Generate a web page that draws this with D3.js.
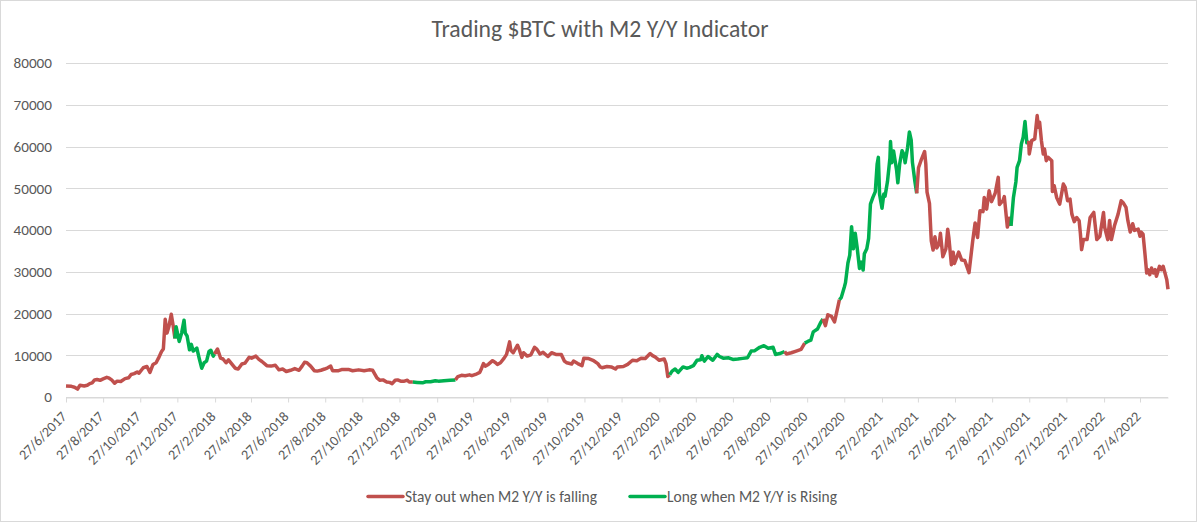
<!DOCTYPE html>
<html>
<head>
<meta charset="utf-8">
<script src="https://cdn.jsdelivr.net/npm/d3@7"></script>
<style>
  html, body { margin: 0; padding: 0; background: #fff; }
  svg { display: block; }
  svg text { font-family: Carlito, Calibri, Lato, sans-serif; }
</style>
</head>
<body>
<svg id="chart" width="1200" height="523"></svg>
<script>
// BTC close
const dates = [
  "2017-06-27","2017-07-06","2017-07-11","2017-07-16","2017-07-20","2017-07-27","2017-08-01","2017-08-05","2017-08-09","2017-08-13",
  "2017-08-17","2017-08-22","2017-08-27","2017-09-02","2017-09-06","2017-09-10","2017-09-15","2017-09-19","2017-09-25","2017-10-02",
  "2017-10-08","2017-10-12","2017-10-17","2017-10-22","2017-10-25","2017-11-01","2017-11-07","2017-11-12","2017-11-17","2017-11-22",
  "2017-11-26","2017-12-01","2017-12-04","2017-12-07","2017-12-10","2017-12-13","2017-12-17","2017-12-20","2017-12-23",
  "2017-12-25","2017-12-30","2018-01-03","2018-01-07","2018-01-09","2018-01-12","2018-01-16","2018-01-19","2018-01-22","2018-01-28",
  "2018-02-01","2018-02-05","2018-02-09","2018-02-13","2018-02-17","2018-02-20","2018-02-24","2018-02-26",
  "2018-03-03","2018-03-08","2018-03-12","2018-03-17","2018-03-21","2018-03-27","2018-04-01","2018-04-06","2018-04-12","2018-04-17",
  "2018-04-24","2018-04-28","2018-05-05","2018-05-10","2018-05-15","2018-05-23","2018-05-30","2018-06-06","2018-06-12","2018-06-18",
  "2018-06-24","2018-07-01","2018-07-08","2018-07-15","2018-07-20","2018-07-24","2018-07-28","2018-08-03","2018-08-09","2018-08-14",
  "2018-08-20","2018-08-26","2018-08-31","2018-09-05","2018-09-08","2018-09-18","2018-09-24","2018-10-04","2018-10-11","2018-10-21",
  "2018-10-30","2018-11-07","2018-11-13","2018-11-20","2018-11-25","2018-11-30","2018-12-06","2018-12-11","2018-12-15","2018-12-20",
  "2018-12-24","2018-12-29","2019-01-04","2019-01-09","2019-01-12","2019-01-18",
  "2019-01-25","2019-02-03","2019-02-08","2019-02-16","2019-02-24","2019-03-01","2019-03-10","2019-03-20","2019-03-29",
  "2019-04-02","2019-04-08","2019-04-14","2019-04-21","2019-04-25","2019-05-01","2019-05-08","2019-05-11","2019-05-14","2019-05-17",
  "2019-05-22","2019-05-29","2019-06-03","2019-06-06","2019-06-11","2019-06-17","2019-06-21","2019-06-26","2019-06-28","2019-07-02",
  "2019-07-09","2019-07-12","2019-07-16","2019-07-19","2019-07-25","2019-07-31","2019-08-06","2019-08-10","2019-08-15","2019-08-20",
  "2019-08-28","2019-09-03","2019-09-10","2019-09-19","2019-09-24","2019-09-28","2019-10-06","2019-10-09","2019-10-16","2019-10-23",
  "2019-10-26","2019-11-03","2019-11-10","2019-11-18","2019-11-22","2019-11-25","2019-12-03","2019-12-10","2019-12-17","2019-12-20",
  "2019-12-30","2020-01-06","2020-01-14","2020-01-21","2020-01-28","2020-02-04","2020-02-12","2020-02-16","2020-02-20","2020-02-27",
  "2020-03-06","2020-03-09","2020-03-12","2020-03-15",
  "2020-03-19","2020-03-24","2020-03-29","2020-04-06","2020-04-12","2020-04-17","2020-04-23","2020-04-29","2020-05-05","2020-05-07",
  "2020-05-11","2020-05-17","2020-05-25","2020-06-01","2020-06-05","2020-06-11","2020-06-20","2020-06-27","2020-07-05","2020-07-13",
  "2020-07-21","2020-07-27","2020-08-02","2020-08-10","2020-08-17","2020-08-24","2020-09-01","2020-09-05","2020-09-12","2020-09-20",
  "2020-09-23","2020-10-01","2020-10-09","2020-10-17","2020-10-23",
  "2020-10-28","2020-11-02","2020-11-06","2020-11-13","2020-11-18","2020-11-22",
  "2020-11-26","2020-11-30","2020-12-06","2020-12-11","2020-12-16","2020-12-19",
  "2020-12-22","2020-12-27","2020-12-29","2021-01-02","2021-01-05","2021-01-08","2021-01-11","2021-01-14","2021-01-17","2021-01-21",
  "2021-01-24","2021-01-27","2021-01-29","2021-02-02","2021-02-05","2021-02-08","2021-02-12","2021-02-16","2021-02-19","2021-02-21",
  "2021-02-23","2021-02-27","2021-03-02","2021-03-04","2021-03-08","2021-03-12","2021-03-13","2021-03-15","2021-03-18","2021-03-23",
  "2021-03-25","2021-03-28","2021-04-01","2021-04-04","2021-04-06","2021-04-10","2021-04-13","2021-04-16","2021-04-18","2021-04-22",
  "2021-04-25",
  "2021-04-28","2021-05-02","2021-05-08","2021-05-10","2021-05-12","2021-05-16","2021-05-19","2021-05-22","2021-05-25","2021-05-28",
  "2021-06-01","2021-06-03","2021-06-07","2021-06-12","2021-06-15","2021-06-17","2021-06-21","2021-06-24","2021-06-26","2021-07-03",
  "2021-07-08","2021-07-13","2021-07-20","2021-07-26","2021-07-30","2021-08-03","2021-08-07","2021-08-12","2021-08-14","2021-08-18",
  "2021-08-22","2021-08-26","2021-09-01","2021-09-06","2021-09-08","2021-09-14","2021-09-16","2021-09-21","2021-09-24","2021-09-27",
  "2021-10-01","2021-10-05","2021-10-07","2021-10-11","2021-10-14","2021-10-17","2021-10-20","2021-10-23","2021-10-26",
  "2021-10-27","2021-10-31","2021-11-05","2021-11-09","2021-11-11","2021-11-13","2021-11-16","2021-11-19","2021-11-21","2021-11-24",
  "2021-11-27","2021-11-30","2021-12-03","2021-12-04","2021-12-07","2021-12-11","2021-12-16","2021-12-22","2021-12-25","2021-12-29",
  "2022-01-02","2022-01-05","2022-01-09","2022-01-13","2022-01-17","2022-01-19","2022-01-21","2022-01-24","2022-01-30","2022-02-04",
  "2022-02-10","2022-02-15","2022-02-20","2022-02-26","2022-02-28","2022-03-05","2022-03-08","2022-03-11","2022-03-16","2022-03-22",
  "2022-03-27","2022-03-30","2022-04-04","2022-04-07","2022-04-11","2022-04-15","2022-04-18","2022-04-24","2022-04-27","2022-04-29",
  "2022-05-02","2022-05-05","2022-05-08","2022-05-10","2022-05-13","2022-05-16","2022-05-19","2022-05-22","2022-05-24","2022-05-29",
  "2022-06-01","2022-06-04","2022-06-07","2022-06-10","2022-06-12"
];
const prices = [
  2630,2550,2350,1900,2800,2650,2800,3200,3400,4100,
  4200,4000,4350,4700,4500,4100,3300,3800,3700,4400,
  4600,5400,5600,6000,5700,7000,7300,5900,7800,8200,
  9300,10900,11500,18600,15300,16800,19800,17200,14000,
  16800,13300,15300,18400,15300,14600,11300,12600,11000,11700,
  9200,6900,8200,8600,10900,11200,9800,10300,
  11500,9300,9100,8200,8900,7800,6900,6700,7900,8100,
  9500,9300,9800,9000,8500,7500,7400,7600,6500,6700,
  6100,6400,6800,6400,7400,8300,8200,7400,6300,6200,
  6400,6700,7000,7400,6300,6300,6600,6600,6300,6500,
  6300,6500,6400,4600,4000,4100,3600,3500,3200,4000,
  4100,3800,3800,4000,3600,3600,
  3500,3400,3650,3650,3900,3800,3900,4000,4100,
  4900,5200,5100,5300,5100,5400,5900,6900,8000,7400,
  7800,8700,8200,7800,8200,9300,10200,13200,11200,10600,
  12400,11400,9500,10600,9800,10100,11900,11400,10300,10700,
  9700,10600,10200,10200,8600,8200,7900,8600,8000,7500,
  9300,9200,8800,8000,7200,7000,7300,7200,6700,7200,
  7300,7800,8800,8700,9300,9200,10400,9900,9600,8800,
  9100,8000,4900,5300,
  6200,6700,5900,7200,6900,7100,7500,8800,8900,9900,
  8600,9700,8800,10200,9700,9300,9400,9000,9100,9250,
  9400,11000,11100,11900,12300,11700,11900,10200,10400,10900,
  10300,10600,11000,11400,12900,
  13300,13600,15600,16300,17800,18700,
  17100,19700,19300,18000,21300,23300,
  23800,26300,27400,32100,34000,40800,35500,39200,36000,30800,
  32300,30400,34300,35500,38000,46200,47800,49200,55800,57400,
  48600,45200,48600,48100,51600,57200,61200,56100,58900,54300,
  51300,55800,59000,58100,56100,59700,63500,61500,56200,51700,
  48800,
  54900,56600,58800,55800,49100,46400,37400,35200,38400,35700,
  36700,39200,33600,35500,40200,38000,31700,34700,32000,34700,
  32800,32700,29800,37300,41700,38200,44600,44400,47800,45000,
  49400,46800,48800,52600,46100,47100,48000,40700,42800,41000,
  47800,51500,55000,56600,60600,62200,66000,60900,61400,
  58200,61400,61800,67400,64600,65800,61400,58200,59400,56600,
  57400,57000,56600,49200,50600,47800,46200,51000,50200,47000,
  47400,43800,42000,43000,42200,39200,35300,37700,37700,43000,
  44200,37700,38500,44200,40600,37700,42300,37700,41000,43800,
  47000,46600,45400,42300,39500,41500,39900,40200,38500,39500,
  39000,34500,29700,30500,29300,30900,29700,30500,28900,31300,
  30500,31300,29700,28100,25800
];

// M2 Y/Y regime: each entry starts on that date
const regimeStarts = ["2017-06-27","2017-12-23","2018-02-26","2019-01-18","2019-03-29","2020-03-15",
  "2020-09-20","2020-10-23","2020-11-22","2020-12-19","2021-04-25","2021-09-27","2021-10-26"];
const regimeSignals = ["out","long","out","long","out","long","out","long","out","long","out","long","out"];

const seriesNames = ["Stay out when M2 Y/Y is falling", "Long when M2 Y/Y is Rising"];
const seriesKeys = ["out", "long"];
const seriesColors = ["#C0504D", "#00B050"];
const yTicks = [0,10000,20000,30000,40000,50000,60000,70000,80000];

const parse = d3.utcParse("%Y-%m-%d");
const fmt = d3.utcFormat("%-d/%-m/%Y");

const pts = dates.map((d, i) => ({ date: parse(d), value: prices[i] }));
const starts = regimeStarts.map(parse);
pts.forEach(p => {
  const k = d3.bisectRight(starts, p.date) - 1;
  p.signal = regimeSignals[k];
});

// split into runs; each run also takes the first point of the next one
const runs = [];
pts.forEach((p, i) => {
  if (i === 0 || p.signal !== pts[i - 1].signal) {
    if (runs.length) runs[runs.length - 1].points.push(p);
    runs.push({ signal: p.signal, points: [p] });
  } else {
    runs[runs.length - 1].points.push(p);
  }
});

// scale a text selection's font so that one sample node gets the wanted width
function fitFont(sel, node, width, start) {
  sel.style("font-size", start + "px");
  const w = node.getComputedTextLength();
  sel.style("font-size", (start * width / w).toFixed(2) + "px");
}

const W = 1200, H = 523;
const margin = { left: 66, right: 32, top: 63, bottom: 126 };

const svg = d3.select("#chart");

svg.append("rect")
  .attr("x", 0.5).attr("y", 0.5)
  .attr("width", 1196).attr("height", 521)
  .attr("fill", "#fff").attr("stroke", "#d9d9d9");

const x = d3.scaleUtc()
  .domain([pts[0].date, pts[pts.length - 1].date])
  .range([margin.left, W - margin.right]);

const y = d3.scaleLinear()
  .domain([0, 80000])
  .range([H - margin.bottom, margin.top]);

// gridlines
svg.append("g")
  .selectAll("line")
  .data(yTicks)
  .join("line")
  .attr("x1", margin.left).attr("x2", W - margin.right)
  .attr("y1", d => Math.round(y(d)) + 0.5).attr("y2", d => Math.round(y(d)) + 0.5)
  .attr("stroke", "#d9d9d9").attr("stroke-width", 1);

// y axis labels
const yAxis = svg.append("g")
  .attr("transform", `translate(${margin.left},0)`)
  .call(d3.axisLeft(y).tickValues(yTicks).tickSize(0).tickPadding(14).tickFormat(d3.format("d")))
  .attr("font-family", null).attr("font-size", null);
yAxis.select(".domain").remove();
const yText = yAxis.selectAll("text").attr("fill", "#595959");
fitFont(yText, yText.nodes()[yText.size() - 1], 38.5, 13);

// x axis
const tickDates = d3.utcMonth.range(d3.utcMonth.floor(pts[0].date), pts[pts.length - 1].date, 2)
  .map(d => d3.utcDay.offset(d, 26))
  .filter(d => d <= pts[pts.length - 1].date);

const xAxis = svg.append("g")
  .attr("transform", `translate(0,${Math.round(y(0)) + 0.5})`)
  .call(d3.axisBottom(x).tickValues(tickDates).tickFormat(fmt).tickSize(5).tickSizeOuter(0))
  .attr("font-family", null).attr("font-size", null);
xAxis.select(".domain").attr("stroke", "#d9d9d9");
xAxis.selectAll(".tick line").attr("stroke", "#d9d9d9");
const xText = xAxis.selectAll("text")
  .attr("fill", "#595959")
  .attr("text-anchor", "end")
  .attr("dy", null)
  .attr("y", 0)
  .attr("transform", "translate(1,20) rotate(-45)");
fitFont(xText, xText.nodes()[0], 61, 13);

// price line, coloured by regime
const line = d3.line()
  .x(d => x(d.date))
  .y(d => y(d.value));

svg.append("g")
  .selectAll("path")
  .data(runs)
  .join("path")
  .attr("d", d => line(d.points))
  .attr("fill", "none")
  .attr("stroke", d => seriesColors[seriesKeys.indexOf(d.signal)])
  .attr("stroke-width", 3.5)
  .attr("stroke-linejoin", "round");

// title
const title = svg.append("text")
  .attr("x", 600).attr("y", 37)
  .attr("text-anchor", "middle")
  .attr("fill", "#595959")
  .text("Trading $BTC with M2 Y/Y Indicator");
fitFont(title, title.node(), 337, 20);

// legend
const legendX = [368, 630];
const legend = svg.append("g")
  .selectAll("g")
  .data(seriesNames)
  .join("g")
  .attr("transform", (d, i) => `translate(${legendX[i]},496.5)`);
legend.append("line")
  .attr("x1", 0).attr("x2", 35)
  .attr("stroke", (d, i) => seriesColors[i])
  .attr("stroke-width", 3.5)
  .attr("stroke-linecap", "round");
const legendText = legend.append("text")
  .attr("x", 37).attr("y", 5)
  .attr("fill", "#595959")
  .text(d => d);
fitFont(legendText, legendText.nodes()[0], 192, 14);
</script>
</body>
</html>
